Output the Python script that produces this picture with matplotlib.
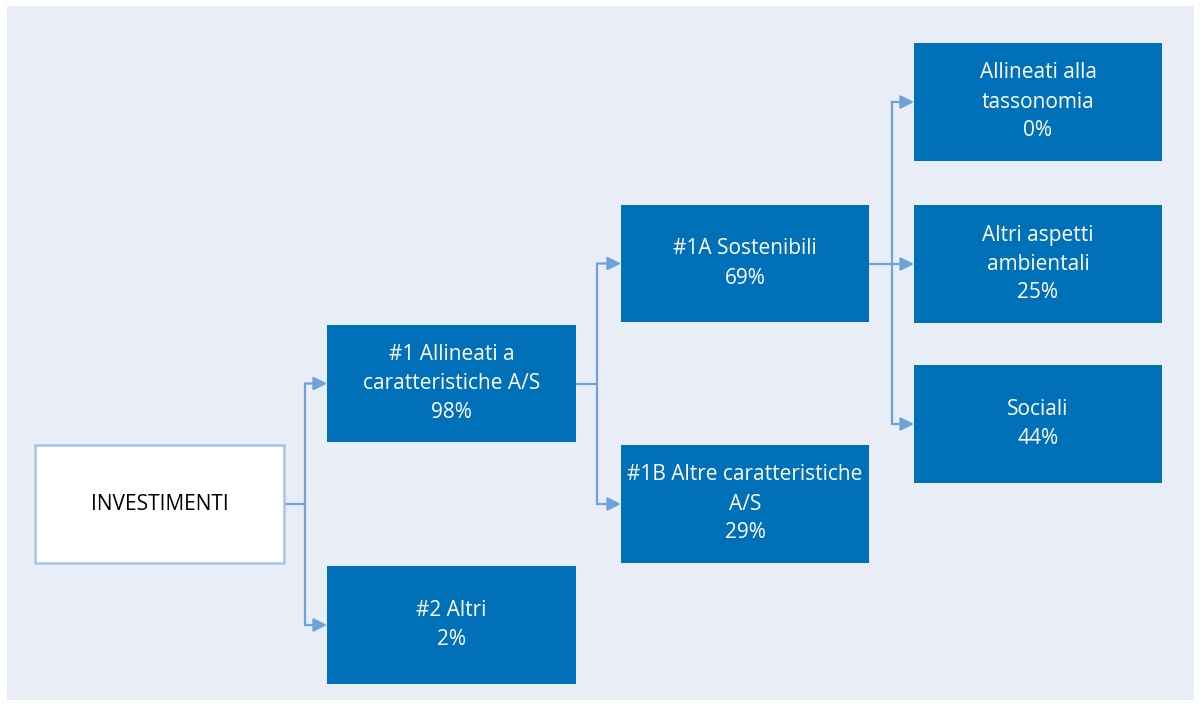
import matplotlib
matplotlib.use("Agg")
import matplotlib.pyplot as plt
from matplotlib.patches import Rectangle, FancyArrowPatch

# ---- data ----
categories = ["INVESTIMENTI", "#1 Allineati a\ncaratteristiche A/S", "#2 Altri",
              "#1A Sostenibili", "#1B Altre caratteristiche\nA/S",
              "Allineati alla\ntassonomia", "Altri aspetti\nambientali", "Sociali"]
percentages = [None, 98, 2, 69, 29, 0, 25, 44]
parents = [None, 0, 0, 1, 1, 3, 3, 3]

# ---- layout (pixels) ----
W, H = 1201, 707
boxes = {  # x0, y0, x1, y1
    0: (35, 445, 284, 563),
    1: (327, 325, 576, 442),
    2: (327, 566, 576, 684),
    3: (621, 205, 869, 322),
    4: (621, 445, 869, 563),
    5: (914, 43, 1162, 161),
    6: (914, 205, 1162, 323),
    7: (914, 365, 1162, 483),
}
bus_x = {0: 305, 1: 597, 3: 892}

BOX = "#0070B8"
LINE = "#6FA3D8"
BG = "#E9EDF6"

fig = plt.figure(figsize=(W / 100, H / 100), dpi=100)
ax = fig.add_axes([0, 0, 1, 1])
ax.set_xlim(0, W)
ax.set_ylim(H, 0)
ax.axis("off")

ax.add_patch(Rectangle((7, 6), 1187, 694, facecolor=BG, edgecolor="none", zorder=0))

font = "Open Sans"
FS = 15

# connectors
for p, bx in bus_x.items():
    kids = [i for i, pp in enumerate(parents) if pp == p]
    px0, py0, px1, py1 = boxes[p]
    pcy = (py0 + py1) / 2
    ax.plot([px1, bx], [pcy, pcy], color=LINE, lw=1.6, zorder=1)
    cys = [(boxes[k][1] + boxes[k][3]) / 2 for k in kids]
    ax.plot([bx, bx], [min(cys), max(cys)], color=LINE, lw=1.6, zorder=1)
    for k, cy in zip(kids, cys):
        arr = FancyArrowPatch((bx, cy), (boxes[k][0], cy), arrowstyle="-|>",
                              mutation_scale=20, color=LINE, lw=1.6,
                              shrinkA=0, shrinkB=0, zorder=1)
        ax.add_patch(arr)

# boxes
for i, name in enumerate(categories):
    x0, y0, x1, y1 = boxes[i]
    if i == 0:
        ax.add_patch(Rectangle((x0, y0), x1 - x0, y1 - y0, facecolor="white",
                               edgecolor="#A9C4E2", lw=1.8, zorder=2))
        ax.text((x0 + x1) / 2, (y0 + y1) / 2, name, ha="center", va="center",
                fontsize=FS, color="black", family=font, zorder=3)
    else:
        ax.add_patch(Rectangle((x0, y0), x1 - x0, y1 - y0, facecolor=BOX,
                               edgecolor="none", zorder=2))
        txt = f"{name}\n{percentages[i]}%"
        ax.text((x0 + x1) / 2, (y0 + y1) / 2, txt, ha="center", va="center",
                fontsize=FS, color="white", family=font, linespacing=1.5,
                zorder=3)

fig.savefig("out.png", dpi=100, facecolor="white")
